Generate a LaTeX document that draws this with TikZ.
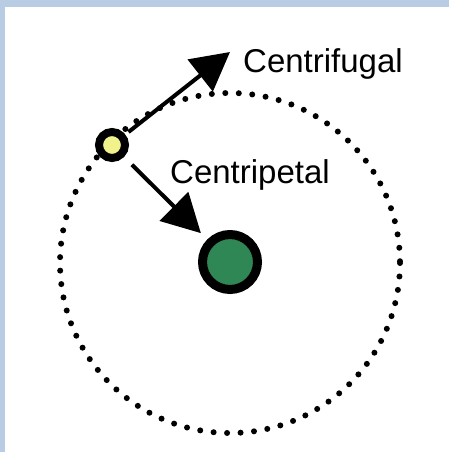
\documentclass[tikz,border=0pt]{standalone}
\usepackage{fontspec}
\setsansfont{Liberation Sans}
\usetikzlibrary{arrows.meta}

\definecolor{frameblue}{RGB}{184,204,228}
\definecolor{sungreen}{RGB}{46,135,84}
\definecolor{satyellow}{RGB}{242,242,140}

\begin{document}
\begin{tikzpicture}[
    x=1pt, y=-1pt,
    body/.style  = {circle, draw, fill=#1, inner sep=0pt},
    arr/.style   = {-{Triangle[length=38pt, width=40pt]}, line width=4pt},
    lbl/.style   = {font=\sffamily\fontsize{33}{36}\selectfont, inner sep=0pt, anchor=base west},
    orbit/.style = {line width=6pt, dash pattern=on 0pt off 13.5pt, line cap=round},
]
% Frame and background
\useasboundingbox (0,0) rectangle (449,452);
\fill[white] (0,0) rectangle (449,452);
\fill[frameblue] (0,0) rectangle (449,7);
\fill[frameblue] (0,0) rectangle (5,452);

% Orbit
\coordinate (centre) at (230,263);
\draw[orbit] (centre) circle (170);

% Bodies
\node[body=sungreen, line width=9pt, minimum size=55pt] (sun) at (230,262) {};
\node[body=satyellow, line width=8pt, minimum size=26pt] (sat) at (112,145) {};
\coordinate (fugtip) at (230,52);

% Forces
\draw[arr, shorten <=4pt] (sat) -- (fugtip);
\draw[arr, shorten <=11pt, shorten >=9pt] (sat) -- (sun);

% Labels
\node[lbl] (fuglbl) at (243,73)  {Centrifugal};
\node[lbl] (petlbl) at (170,183) {Centripetal};

\end{tikzpicture}
\end{document}
